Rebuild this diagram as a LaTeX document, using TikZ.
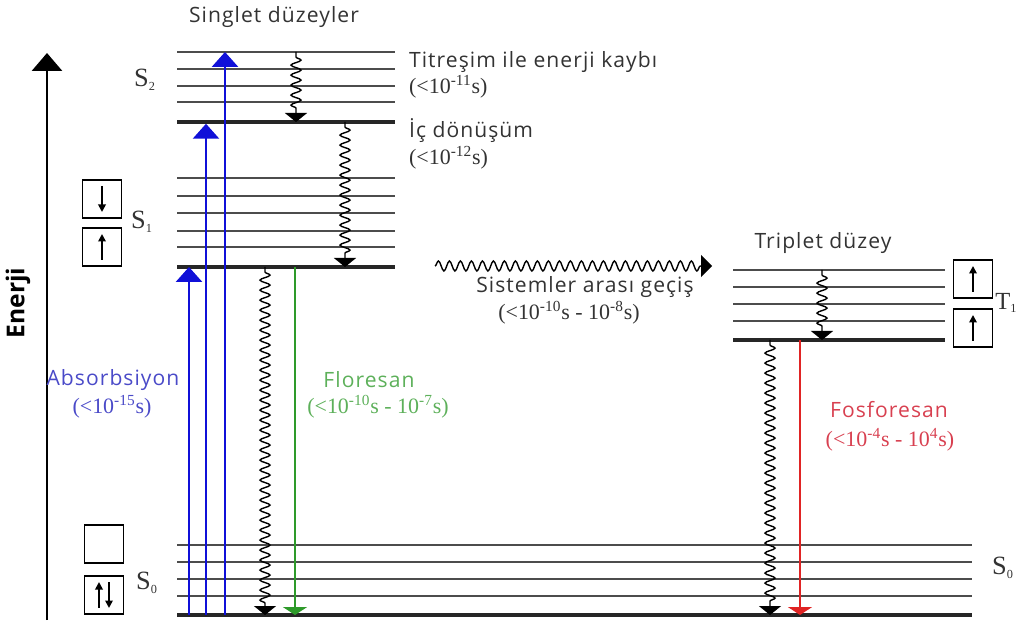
\documentclass[tikz,border=0pt]{standalone}
\usepackage{fontspec}
\setmainfont{Open Sans}
\newfontfamily\lblfont[LetterSpace=5]{Open Sans}
\newfontfamily\timefont{Liberation Serif}
\usepackage{tikz}
\usetikzlibrary{arrows.meta,decorations.pathmorphing,positioning}
\definecolor{absblue}{HTML}{1010D8}
\definecolor{abstext}{HTML}{4A4AC8}
\definecolor{flgreen}{HTML}{2E9A2A}
\definecolor{fltext}{HTML}{5DB05A}
\definecolor{phred}{HTML}{E02424}
\definecolor{phtext}{HTML}{D84050}
\newcommand{\tsup}[1]{\textsuperscript{#1}}

\begin{document}
\begin{tikzpicture}[x=0.02cm,y=-0.02cm,
  lvl/.style={line width=0.9pt,black!70},
  lvlbase/.style={line width=1.8pt,black!85},
  lbl/.style={font=\lblfont\fontsize{12}{14}\selectfont,text=black!80,inner sep=1pt},
  tlbl/.style={font=\timefont\fontsize{12.5}{14}\selectfont,text=black!80,inner sep=1pt},
  statelbl/.style={font=\timefont\fontsize{15}{17}\selectfont,text=black!80,inner sep=1pt},
  spinbox/.style={draw,line width=0.9pt,minimum width=0.78cm,minimum height=0.76cm,inner sep=0pt},
  spin/.style={line width=1pt,-{Triangle[length=1.5mm,width=1.5mm]}},
  absarrow/.style={line width=1.7pt,draw=absblue,-{Triangle[length=3mm,width=5.2mm]},fill=absblue},
  flarrow/.style={line width=1.5pt,draw=flgreen,-{Triangle[length=1.6mm,width=4.8mm]}},
  pharrow/.style={line width=1.2pt,draw=phred,-{Triangle[length=1.6mm,width=4.8mm]}},
  nonrad/.style={line width=0.8pt,-{Triangle[length=1.8mm,width=4.4mm]},decorate,
    decoration={snake,amplitude=1mm,segment length=2mm,pre length=1mm,post length=2mm}}
]
\useasboundingbox (0,0) rectangle (1017,624);

% level heights
\coordinate (S2top) at (0,52);
\coordinate (S2base) at (0,122);
\coordinate (S1base) at (0,267);
\coordinate (T1top) at (0,270);
\coordinate (T1base) at (0,340);
\coordinate (S0base) at (0,615);

% singlet levels
\foreach \y in {52,69,86,102} \draw[lvl] (177,\y) -- (395,\y);
\draw[lvlbase] (177,122) -- (395,122);
\foreach \y in {178,196,213,231,247} \draw[lvl] (177,\y) -- (395,\y);
\draw[lvlbase] (177,267) -- (395,267);
\foreach \y in {545,562,579,596} \draw[lvl] (177,\y) -- (972,\y);
\draw[lvlbase] (177,615) -- (972,615);

% triplet levels
\foreach \y in {270,287,304,321} \draw[lvl] (733,\y) -- (945,\y);
\draw[lvlbase] (733,340) -- (945,340);

% energy axis
\coordinate (axlow) at (47,620);
\coordinate (axhigh) at (47,53);
\draw[line width=1.7pt,-{Triangle[length=3.6mm,width=6mm]}] (axlow) -- (axhigh);
\node[font=\bfseries\fontsize{14}{16}\selectfont,rotate=90] (enerji) at (18,303) {Enerji};

% state labels
\node[statelbl] (s2lbl) at (145,80) {S\textsubscript{\scriptsize 2}};
\node[statelbl] (s1lbl) at (142,222) {S\textsubscript{\scriptsize 1}};
\node[statelbl] (s0lbl) at (147,583) {S\textsubscript{\scriptsize 0}};
\node[statelbl,anchor=west,inner sep=0pt,font=\timefont\fontsize{14}{16}\selectfont] (t1lbl) at (995,303) {T\textsubscript{\scriptsize 1}};
\node[statelbl,anchor=east] (s0rlbl) at (1016,568) {S\textsubscript{\scriptsize 0}};

% spin boxes
\node[spinbox] (boxSa) at (102,199) {};
\node[spinbox] (boxSb) at (102,247) {};
\node[spinbox] (boxGa) at (104,544) {};
\node[spinbox] (boxGb) at (104,595) {};
\node[spinbox] (boxTa) at (973,279) {};
\node[spinbox] (boxTb) at (973,328) {};
\draw[spin] ([yshift=2.6mm]boxSa.center) -- ([yshift=-2.6mm]boxSa.center);
\draw[spin] ([yshift=-2.6mm]boxSb.center) -- ([yshift=2.6mm]boxSb.center);
\draw[spin] ([xshift=-1mm,yshift=-2.6mm]boxGb.center) -- ([xshift=-1mm,yshift=2.6mm]boxGb.center);
\draw[spin] ([xshift=1mm,yshift=2.6mm]boxGb.center) -- ([xshift=1mm,yshift=-2.6mm]boxGb.center);
\draw[spin] ([yshift=-2.6mm]boxTa.center) -- ([yshift=2.6mm]boxTa.center);
\draw[spin] ([yshift=-2.6mm]boxTb.center) -- ([yshift=2.6mm]boxTb.center);

% absorption
\coordinate (absA) at (189,0);
\coordinate (absB) at (206,0);
\coordinate (absC) at (225,0);
\draw[absarrow] (absA |- S0base) -- (absA |- S1base);
\draw[absarrow] (absB |- S0base) -- ([yshift=-1pt]absB |- S2base);
\draw[absarrow] (absC |- S0base) -- (absC |- S2top);

% radiationless transitions
\coordinate (vrS2) at (296,0);
\coordinate (icS) at (345,0);
\coordinate (icS0) at (265,0);
\coordinate (vrT) at (822,0);
\coordinate (icT) at (770,0);
\draw[nonrad] (vrS2 |- S2top) -- (vrS2 |- S2base);
\draw[nonrad] (icS |- S2base) -- (icS |- S1base);
\draw[nonrad] (icS0 |- S1base) -- (icS0 |- S0base);
\draw[nonrad] (vrT |- T1top) -- (vrT |- T1base);
\draw[nonrad] (icT |- T1base) -- (icT |- S0base);

% intersystem crossing
\coordinate (iscstart) at (435,266);
\coordinate (iscend) at (712,266);
\draw[line width=0.8pt,-{Triangle[length=2.2mm,width=4.4mm]},decorate,
  decoration={snake,amplitude=1mm,segment length=2.2mm,post length=2.2mm}] (iscstart) -- (iscend);

% emission
\coordinate (flx) at (295,0);
\coordinate (phx) at (800,0);
\draw[flarrow] (flx |- S1base) -- (flx |- S0base);
\draw[pharrow] (phx |- T1base) -- (phx |- S0base);

% texts
\node[lbl] (singlet) at (274,17) {Singlet düzeyler};
\node[lbl,anchor=west] (vr) at (407,62) {Titreşim ile enerji kaybı};
\node[tlbl,anchor=west] (vrtime) at (407,87) {(<10\tsup{-11}s)};
\node[lbl,anchor=west] (ic) at (407,131) {İç dönüşüm};
\node[tlbl,anchor=west] (ictime) at (407,158) {(<10\tsup{-12}s)};
\node[lbl] (triplet) at (823,243) {Triplet düzey};
\node[lbl] (isc) at (585,287) {Sistemler arası geçiş};
\node[tlbl] (isctime) at (569,313) {(<10\tsup{-10}s - 10\tsup{-8}s)};
\node[lbl,text=abstext] (abs) at (113,380) {Absorbsiyon};
\node[tlbl,text=abstext] (abstime) at (112,407) {(<10\tsup{-15}s)};
\node[lbl,text=fltext] (fl) at (369,380) {Floresan};
\node[tlbl,text=fltext] (fltime) at (378,407) {(<10\tsup{-10}s - 10\tsup{-7}s)};
\node[lbl,text=phtext] (ph) at (889,410) {Fosforesan};
\node[tlbl,text=phtext] (phtime) at (890,440) {(<10\tsup{-4}s - 10\tsup{4}s)};
\end{tikzpicture}
\end{document}
